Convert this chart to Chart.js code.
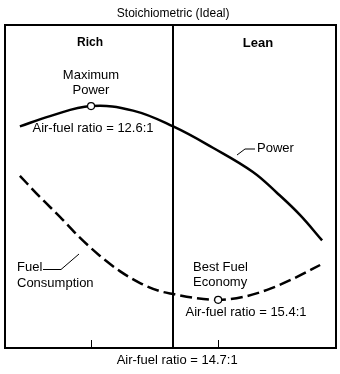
<!DOCTYPE html>
<html>
<head>
<meta charset="utf-8">
<script src="https://cdn.jsdelivr.net/npm/chart.js@4/dist/chart.umd.min.js"></script>
<style>
html, body { margin: 0; padding: 0; background: #fff; }
#wrap { width: 340px; height: 374px; }
</style>
</head>
<body>
<div id="wrap"><canvas id="myChart" width="340" height="374"></canvas></div>
<script>
// mixture position across the box: 0 = richest, 100 = leanest
var powerX = [4.5, 13.6, 26.0, 38.7, 50.8, 62.8, 74.9, 82.2, 89.1, 95.8];
var powerY = [68.6, 71.8, 74.9, 73.5, 68.6, 62.0, 54.5, 48.0, 41.2, 33.3];
var fuelX = [4.5, 10.6, 16.6, 22.7, 28.7, 34.7, 40.8, 46.8, 50.8, 57.4, 64.4, 71.9, 79.2, 87.0, 95.2];
var fuelY = [53.3, 46.7, 40.6, 34.1, 28.5, 23.8, 20.1, 17.6, 16.7, 15.5, 14.9, 15.8, 18.0, 21.4, 25.7];

// air-fuel ratio marks along the bottom
var ratioPos = [26, 50.8, 64.4];
var ratioLabels = ['12.6:1', '14.7:1', '15.4:1'];

var maxPowerIdx = 2;
var bestEconomyIdx = 10;

function toPoints(xs, ys) {
    return xs.map(function (x, i) { return { x: x, y: ys[i] }; });
}

var FONT = "'Liberation Sans', Arial, sans-serif";

var annotations = {
    id: 'annotations',
    beforeDatasetsDraw: function (chart) {
        var ctx = chart.ctx, a = chart.chartArea;
        var xs = chart.scales.x;
        ctx.save();
        ctx.strokeStyle = '#000';
        ctx.lineWidth = 2;
        ctx.strokeRect(a.left, a.top, a.right - a.left, a.bottom - a.top);

        // stoichiometric divider
        var sx = Math.round(xs.getPixelForValue(ratioPos[1]));
        ctx.beginPath();
        ctx.moveTo(sx, a.top);
        ctx.lineTo(sx, a.bottom);
        ctx.stroke();

        // small inward ticks for 12.6 and 15.4
        ctx.lineWidth = 1;
        [ratioPos[0], ratioPos[2]].forEach(function (v) {
            var px = Math.round(xs.getPixelForValue(v)) + 0.5;
            ctx.beginPath();
            ctx.moveTo(px, a.bottom);
            ctx.lineTo(px, a.bottom - 8);
            ctx.stroke();
        });
        ctx.restore();
    },
    afterDatasetsDraw: function (chart) {
        var ctx = chart.ctx;
        var xs = chart.scales.x;
        var sx = xs.getPixelForValue(ratioPos[1]);
        ctx.save();
        ctx.fillStyle = '#000';
        ctx.strokeStyle = '#000';
        ctx.textBaseline = 'middle';
        ctx.textAlign = 'center';

        ctx.font = '12px ' + FONT;
        ctx.fillText('Stoichiometric (Ideal)', sx, 14);

        ctx.font = '13px ' + FONT;
        ctx.fillText('Air-fuel ratio = ' + ratioLabels[1], sx + 4, 360);

        ctx.font = 'bold 12px ' + FONT;
        ctx.fillText('Rich', 90, 43);
        ctx.font = 'bold 13px ' + FONT;
        ctx.fillText('Lean', 258, 43);

        ctx.font = '13px ' + FONT;
        ctx.fillText('Maximum', 91, 75);
        ctx.fillText('Power', 91, 90);
        ctx.fillText('Air-fuel ratio = ' + ratioLabels[0], 93, 128);
        ctx.fillText('Air-fuel ratio = ' + ratioLabels[2], 246, 312);

        ctx.textAlign = 'left';
        ctx.fillText('Best Fuel', 193, 267);
        ctx.fillText('Economy', 193, 282);
        ctx.fillText('Power', 257, 148);
        ctx.fillText('Fuel', 17, 267);
        ctx.fillText('Consumption', 17, 283);

        // leader lines
        ctx.lineWidth = 1;
        ctx.beginPath();
        ctx.moveTo(237, 155);
        ctx.lineTo(245, 149);
        ctx.lineTo(255, 149);
        ctx.moveTo(43, 269.5);
        ctx.lineTo(61, 269.5);
        ctx.lineTo(79, 254);
        ctx.stroke();
        ctx.restore();
    }
};

var chartBlock = document.getElementById('myChart');
var myChart = new Chart(chartBlock, {
    type: 'line',
    data: {
        datasets: [
            {
                label: 'Power',
                data: toPoints(powerX, powerY),
                borderColor: '#000',
                borderWidth: 2.5,
                tension: 0.4,
                pointRadius: powerX.map(function (v, i) { return i === maxPowerIdx ? 3.5 : 0; }),
                pointBackgroundColor: '#fff',
                pointBorderColor: '#000',
                pointBorderWidth: 1.2
            },
            {
                label: 'Fuel Consumption',
                data: toPoints(fuelX, fuelY),
                borderColor: '#000',
                borderWidth: 2.5,
                borderDash: [12, 5],
                cubicInterpolationMode: 'monotone',
                pointRadius: fuelX.map(function (v, i) { return i === bestEconomyIdx ? 3.5 : 0; }),
                pointBackgroundColor: '#fff',
                pointBorderColor: '#000',
                pointBorderWidth: 1.2
            }
        ]
    },
    options: {
        responsive: false,
        animation: false,
        devicePixelRatio: 1,
        layout: { padding: { left: 5, right: 4, top: 25, bottom: 26 } },
        scales: {
            x: { type: 'linear', min: 0, max: 100, display: false },
            y: { type: 'linear', min: 0, max: 100, display: false }
        },
        plugins: {
            legend: { display: false },
            tooltip: { enabled: false }
        }
    },
    plugins: [annotations]
});
</script>
</body>
</html>
